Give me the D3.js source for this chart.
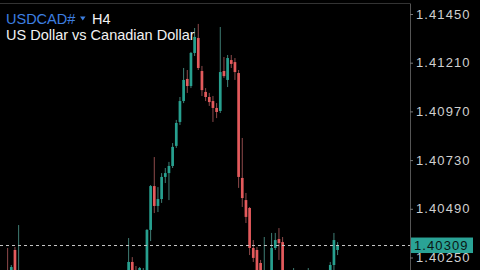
<!DOCTYPE html>
<html><head><meta charset="utf-8">
<script src="https://cdn.jsdelivr.net/npm/d3@7/dist/d3.min.js"></script>
<style>html,body{margin:0;padding:0;background:#000;overflow:hidden}</style>
</head><body>
<svg id="c" width="480" height="270"></svg>
<script>
// ---- data ----
const symbol = "USDCAD#";
const timeframe = "H4";
const description = "US Dollar vs Canadian Dollar";
const tickLabels = [1.41450, 1.41210, 1.40970, 1.40730, 1.40490, 1.40250];
const lastPrice = 1.40309;
// candle index (bar number), open, high, low, close
const barIndex = [2,3,4,5,35,36,37,38,39,40,41,42,43,44,45,46,47,48,49,50,51,52,53,54,55,56,57,58,59,60,61,62,63,64,65,66,67,68,69,70,71,72,74,75,76,77,80,84,90,91,92];
const opens  = [1.40139,1.40120,1.40287,1.40130,1.40139,1.40228,1.40180,1.40180,1.40170,1.40090,1.40386,1.40602,1.40504,1.40538,1.40647,1.40666,1.40701,1.40800,1.40918,1.41021,1.41130,1.41095,1.41258,1.41332,1.41169,1.41066,1.41041,1.41021,1.40987,1.40972,1.41169,1.41125,1.41223,1.41213,1.41159,1.40642,1.40533,1.40494,1.40297,1.40287,1.40223,1.40120,1.40139,1.40297,1.40341,1.40326,1.40120,1.40120,1.40130,1.40213,1.40287];
const highs  = [1.40297,1.40213,1.40302,1.40410,1.40346,1.40252,1.40208,1.40203,1.40198,1.40390,1.40607,1.40745,1.40597,1.40666,1.40691,1.40721,1.40814,1.40928,1.41041,1.41184,1.41174,1.41263,1.41381,1.41401,1.41194,1.41085,1.41061,1.41046,1.41011,1.41386,1.41238,1.41248,1.41248,1.41233,1.41174,1.40839,1.40568,1.40499,1.40336,1.40302,1.40238,1.40351,1.40371,1.40371,1.40395,1.40351,1.40198,1.40198,1.40228,1.40371,1.40326];
const lows   = [1.40090,1.40090,1.40090,1.40090,1.40090,1.40090,1.40100,1.40150,1.40100,1.40080,1.40331,1.40469,1.40474,1.40519,1.40617,1.40533,1.40691,1.40790,1.40903,1.41011,1.41061,1.41085,1.41243,1.41174,1.41046,1.41021,1.40997,1.40918,1.40937,1.40962,1.41135,1.41090,1.41184,1.41125,1.40593,1.40499,1.40420,1.40262,1.40228,1.40090,1.40090,1.40090,1.40090,1.40287,1.40238,1.40090,1.40090,1.40090,1.40090,1.40188,1.40262];
const closes = [1.40120,1.40203,1.40139,1.40170,1.40228,1.40139,1.40150,1.40198,1.40185,1.40386,1.40602,1.40504,1.40538,1.40647,1.40666,1.40701,1.40795,1.40913,1.41021,1.41125,1.41095,1.41258,1.41337,1.41184,1.41075,1.41041,1.41016,1.40987,1.40967,1.41164,1.41144,1.41233,1.41204,1.41164,1.40647,1.40543,1.40450,1.40297,1.40248,1.40139,1.40150,1.40170,1.40297,1.40336,1.40321,1.40139,1.40150,1.40150,1.40213,1.40336,1.40309];

const candles = barIndex.map((b,i)=>({b, o:opens[i], h:highs[i], l:lows[i], c:closes[i]}));

const svg = d3.select("#c");
const axisX = 410;
const x = d3.scaleLinear().domain([0, 92]).range([0.3, 337.6]);
const y = d3.scaleLinear().domain([1.40250, 1.41450]).range([257.5, 14]);

const UP = "#27a08f", DOWN = "#e35a5c";
const UPW = "#3f7d74", DOWNW = "#8e4a4b";

// frame
svg.append("line").attr("x1",0).attr("x2",axisX).attr("y1",3.5).attr("y2",3.5).attr("stroke","#333").attr("stroke-width",1);

const g = svg.append("g");
// wicks
g.selectAll("line.w").data(candles).join("line")
  .attr("x1",d=>x(d.b)).attr("x2",d=>x(d.b))
  .attr("y1",d=>y(d.h)).attr("y2",d=>y(d.l))
  .attr("stroke",d=>d.c>=d.o?UPW:DOWNW).attr("stroke-width",1);
// bodies
const bw = 2.7;
g.selectAll("rect.b").data(candles).join("rect")
  .attr("x",d=>x(d.b)-bw/2).attr("width",bw)
  .attr("y",d=>y(Math.max(d.o,d.c)))
  .attr("height",d=>Math.max(1, Math.abs(y(d.o)-y(d.c))))
  .attr("fill",d=>d.c>=d.o?UP:DOWN);

// last price dashed line
svg.append("line").attr("x1",0).attr("x2",axisX).attr("y1",y(lastPrice)).attr("y2",y(lastPrice))
  .attr("stroke","#c8c8c8").attr("stroke-width",1).attr("stroke-dasharray","3,3");

// axis
const ax = svg.append("g").attr("transform",`translate(${axisX},0)`)
  .call(d3.axisRight(y).tickValues(tickLabels).tickFormat(d3.format(".5f")).tickSize(3).tickPadding(3));
ax.select(".domain").attr("stroke","#555").attr("d","M0.5,3.5V270");
ax.selectAll(".tick line").attr("stroke","#777");
ax.selectAll(".tick text").attr("fill","#d0d0d0").style("font-family","Liberation Sans, Arial, sans-serif")
  .style("font-size","13px").style("letter-spacing","1.1px");

// last price box
const bx = svg.append("g").attr("transform",`translate(${axisX+1},${y(lastPrice)})`);
bx.append("rect").attr("x",0).attr("y",-8).attr("width",62).attr("height",15.5).attr("fill","#2aa396");
bx.append("text").attr("x",3).attr("y",0).attr("dy","0.35em").text(d3.format(".5f")(lastPrice))
  .attr("fill","#0a1614").style("font-family","Liberation Sans, Arial, sans-serif").style("font-size","13px").style("letter-spacing","1.1px");

// header
const font = "Liberation Sans, Arial, sans-serif";
svg.append("text").attr("x",6).attr("y",24).text(symbol).attr("fill","#3d7fe0").style("font-family",font).style("font-size","14.5px");
svg.append("path").attr("d","M80,16.5 L85.5,16.5 L82.75,20.5 Z").attr("fill","#3d7fe0");
svg.append("text").attr("x",92).attr("y",24).text(timeframe).attr("fill","#f2f2f2").style("font-family",font).style("font-size","14.5px");
svg.append("text").attr("x",6).attr("y",40).text(description).attr("fill","#f2f2f2").style("font-family",font).style("font-size","14.5px");
</script>
</body></html>
